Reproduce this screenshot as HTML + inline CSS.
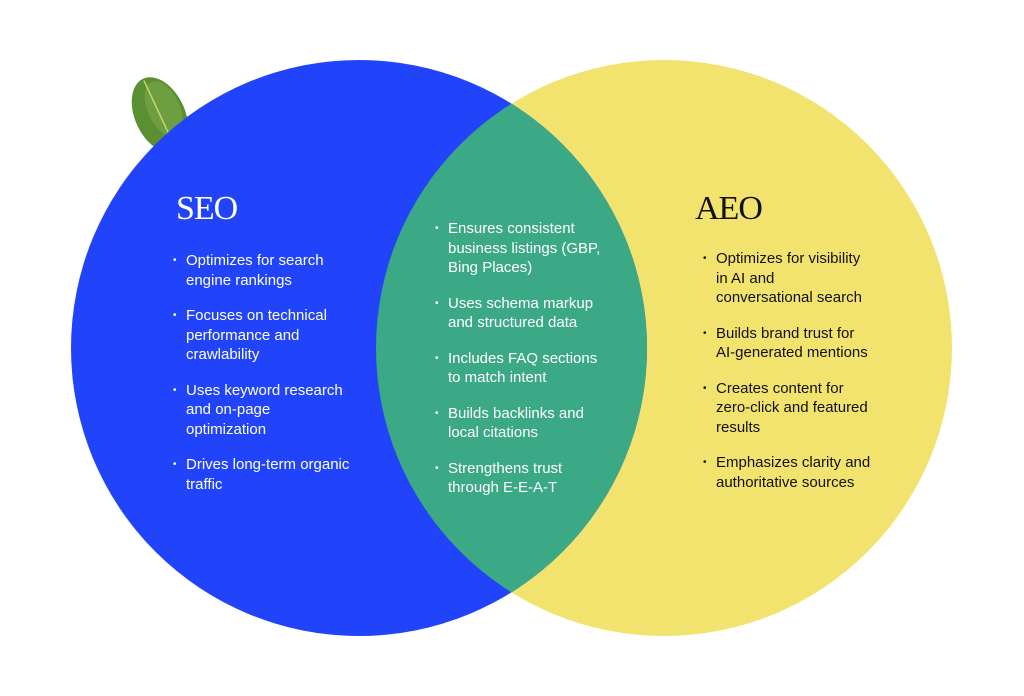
<!DOCTYPE html>
<html><head><style>
html,body{margin:0;padding:0;background:#fff;}
body{width:1024px;height:696px;position:relative;overflow:hidden;}
.t{position:absolute;font-family:"Liberation Sans",sans-serif;font-size:15px;line-height:19.7px;white-space:nowrap;}
.t ul{margin:0;padding:0;list-style:none;}
.t li{position:relative;margin-bottom:15.6px;}
.t li:before{content:"•";position:absolute;left:-13px;font-size:10px;}
h2{position:absolute;margin:0;font-family:"Liberation Serif",serif;font-weight:normal;font-size:34px;letter-spacing:-1px;}
</style></head><body>
<svg width="1024" height="696" style="position:absolute;left:0;top:0">
<defs><clipPath id="c"><circle cx="359" cy="348" r="288"/></clipPath></defs>
<g transform="translate(160,115) rotate(-25)">
<ellipse cx="0" cy="0" rx="25" ry="40" fill="#5a8f32"/>
<ellipse cx="6" cy="-4" rx="16" ry="30" fill="#79a94a" opacity="0.6"/>
<line x1="0" y1="-38" x2="0" y2="40" stroke="#c5d86a" stroke-width="1.5"/>
</g>
<circle cx="664" cy="348" r="288" fill="#F2E36E"/>
<circle cx="359" cy="348" r="288" fill="#2144FB"/>
<circle cx="664" cy="348" r="288" fill="#3BA886" clip-path="url(#c)"/>
</svg>
<h2 style="left:176px;top:190px;color:#fff">SEO</h2>
<h2 style="left:695px;top:190px;color:#111">AEO</h2>
<div class="t" style="left:186px;top:251px;color:#fff"><ul>
<li>Optimizes for search<br>engine rankings</li>
<li>Focuses on technical<br>performance and<br>crawlability</li>
<li>Uses keyword research<br>and on-page<br>optimization</li>
<li>Drives long-term organic<br>traffic</li></ul></div>
<div class="t" style="left:448px;top:219px;color:#fff"><ul>
<li>Ensures consistent<br>business listings (GBP,<br>Bing Places)</li>
<li>Uses schema markup<br>and structured data</li>
<li>Includes FAQ sections<br>to match intent</li>
<li>Builds backlinks and<br>local citations</li>
<li>Strengthens trust<br>through E-E-A-T</li></ul></div>
<div class="t" style="left:716px;top:249px;color:#111"><ul>
<li>Optimizes for visibility<br>in AI and<br>conversational search</li>
<li>Builds brand trust for<br>AI-generated mentions</li>
<li>Creates content for<br>zero-click and featured<br>results</li>
<li>Emphasizes clarity and<br>authoritative sources</li></ul></div>
</body></html>
